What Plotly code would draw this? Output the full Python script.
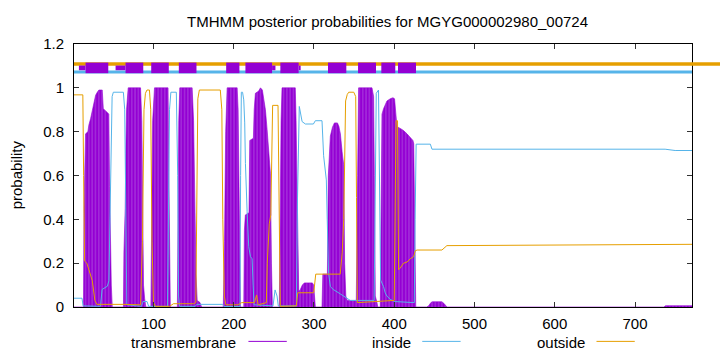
import plotly.graph_objects as go

SEQ_LEN = 771
TITLE = "TMHMM posterior probabilities for MGYG000002980_00724"

# ---- posterior probability profiles (residue, probability) ----
tm_res = [1, 12.8, 13.5, 15.4, 18.3, 19.5, 21.7, 23.8, 25.8, 27.9, 30, 32, 36.2, 37, 37.5, 43.2, 44.4, 45.3, 46.5, 47.5, 48.7,
          62.6, 63.2, 64.8, 65.5, 66.5, 68.5, 83.9, 85.5, 86.8, 87.6, 89, 90.5,
          96.8, 97.6, 99, 101.3, 118.2, 119.2, 120.4, 121,
          129.8, 130.5, 131.5, 132.8, 148.2, 150, 151.5, 153, 154.5, 158, 160,
          187, 188.5, 190, 191.8, 204.3, 205.5, 206.5, 207.5, 208.4,
          212.5, 213.3, 214.5, 219, 220, 224.5, 225.5, 227, 231.1, 233.3, 235.7, 237.4, 239.5, 241.6, 243.6, 245.7, 247, 247.6, 248.2,
          256.8, 258, 259, 260.2, 276.7, 277.7, 278.6, 279.7, 281, 283, 285.5, 288, 298, 299.6, 300.5, 301.7,
          310, 311, 316.7, 317.9, 320.4, 323, 325.5, 329.2, 331, 332.9, 335, 337, 338.2, 339.7, 341.5, 352,
          352.7, 354.4, 355.6, 372.3, 374.3, 375.2, 376.4, 378.5, 379.5,
          382.6, 383.9, 384.7, 386.7, 388.8, 390.9, 395, 398.4, 400.4, 402.2, 403.4, 407.5, 411.6, 415.9, 420, 423.3, 424.3, 425.6, 426.8,
          440.5, 442.7, 445.7, 447.3, 459.4, 462.3, 465.6,
          590, 592, 619, 621, 634, 636, 656, 658, 736, 738, 771]
tm_prob = [0, 0, 0.45, 0.79, 0.8, 0.83, 0.86, 0.897, 0.935, 0.966, 0.98, 0.99, 0.99, 0.92, 0.905, 0.885, 0.88, 0.55, 0.28, 0.1, 0,
           0, 0.25, 0.45, 0.7, 0.9, 1.0, 1.0, 0.85, 0.4, 0.1, 0.04, 0,
           0, 0.3, 0.85, 1.0, 1.0, 0.6, 0.05, 0,
           0, 0.4, 0.85, 1.0, 1.0, 0.85, 0.5, 0.15, 0.03, 0.02, 0,
           0, 0.3, 0.8, 1.0, 1.0, 0.9, 0.5, 0.1, 0,
           0, 0.35, 0.42, 0.43, 0.76, 0.77, 0.9, 0.975, 0.985, 1.0, 0.99, 0.945, 0.9, 0.81, 0.69, 0.61, 0.2, 0.05, 0,
           0, 0.5, 0.85, 1.0, 1.0, 0.85, 0.6, 0.25, 0.07, 0.08, 0.1, 0.11, 0.11, 0.1, 0.03, 0,
           0, 0.15, 0.15, 0.6, 0.78, 0.82, 0.84, 0.84, 0.825, 0.79, 0.71, 0.65, 0.2, 0.05, 0.03, 0.03,
           0.03, 0.6, 1.0, 1.0, 0.96, 0.6, 0.05, 0.02, 0,
           0, 0.6, 0.88, 0.905, 0.925, 0.94, 0.95, 0.955, 0.95, 0.87, 0.823, 0.815, 0.805, 0.79, 0.775, 0.76, 0.745, 0.3, 0,
           0, 0.005, 0.02, 0.024, 0.024, 0.015, 0,
           0, 0.003, 0.003, 0, 0, 0.003, 0.003, 0, 0, 0.006, 0.006]

inside_res = [1, 11, 12.3, 34, 36, 42.6, 44.5, 45.8, 47.5, 48.5, 50, 62.5, 64.2, 65.3, 66.8, 85, 87, 92, 94,
              117.5, 119, 120, 121.7, 128.5, 130.2, 131.3, 132.5, 152, 154, 186, 188,
              207.8, 208.6, 209.5, 211, 212.5, 213.7, 214.6, 216.7, 218.7, 220.8, 222.9, 224.2, 225.3,
              249, 251.5, 254, 255.5, 278, 279.5, 281.7, 283, 285.2, 289.3, 299.3, 301.7, 310, 312, 315.4, 316.5, 318.2,
              320.4, 324, 332.7, 341, 345.2, 375, 376.3, 377.6, 380.4, 381.7, 383, 386.7, 388.8, 390.9, 395, 400,
              425, 426, 427.3, 445, 447, 737.5, 750, 771]
inside_prob = [0.04, 0.04, 0.005, 0.003, 0.08, 0.095, 0.12, 0.4, 0.85, 0.96, 0.98, 0.98, 0.9, 0.35, 0.01, 0.003, 0.025, 0.025, 0.003,
               0.003, 0.5, 0.9, 0.98, 0.98, 0.6, 0.05, 0.003, 0.003, 0.012, 0.012, 0.002,
               0.002, 0.6, 0.98, 0.98, 0.945, 0.84, 0.655, 0.435, 0.275, 0.23, 0.22, 0.1, 0.01,
               0.005, 0.078, 0.05, 0.005, 0.005, 0.5, 0.915, 0.89, 0.846, 0.835, 0.835, 0.85, 0.85, 0.69, 0.58, 0.4, 0.154,
               0.093, 0.08, 0.06, 0.04, 0.03, 0.03, 0.6, 0.975, 0.99, 0.6, 0.123, 0.093, 0.064, 0.05, 0.035, 0.025,
               0.02, 0.4, 0.743, 0.743, 0.72, 0.72, 0.714, 0.714]

outside_res = [1, 12, 13, 14.2, 17, 19.5, 23.8, 27, 29.5, 62, 83.9, 86.3, 88.2, 90, 91.9, 95, 96.6, 98.2, 100, 102.5,
               120, 125, 150, 152.8, 154, 155.3, 157.2, 183.3, 185.2, 186.4, 188.3, 190.2, 205, 210, 226, 228.5, 230.5,
               240.6, 241.8, 244.3, 246.2, 247.5, 248.5, 255.2, 256.8, 258, 278, 279.8, 299.7, 302.2, 332.7, 335.2,
               337.1, 338.4, 339.4, 341.5, 343.3, 349.6, 352, 353, 354, 400, 401.5, 402.2, 404.1, 405.4, 407.5, 411.6,
               415.9, 420, 424.2, 426.3, 428.5, 459.4, 465.6, 656, 680, 771]
outside_prob = [0.968, 0.968, 0.6, 0.21, 0.2, 0.17, 0.12, 0.03, 0.012, 0.012, 0.01, 0.3, 0.9, 0.975, 0.99, 0.99, 0.9, 0.3, 0.02, 0.003,
                0.003, 0.015, 0.015, 0.02, 0.6, 0.95, 0.99, 0.99, 0.9, 0.4, 0.05, 0.01, 0.01, 0.02, 0.02, 0.055, 0.01,
                0.02, 0.2, 0.38, 0.42, 0.7, 0.92, 0.92, 0.5, 0.003, 0.005, 0.065, 0.065, 0.15, 0.15, 0.25,
                0.4, 0.7, 0.94, 0.97, 0.98, 0.98, 0.96, 0.5, 0.02, 0.03, 0.5, 0.85, 0.85, 0.17, 0.178, 0.2,
                0.205, 0.22, 0.23, 0.257, 0.26, 0.26, 0.28, 0.283, 0.286, 0.286]

# ---- predicted topology drawn above the curves ----
tm_box_start = [15.4, 65.2, 97.2, 131.6, 190.6, 214.6, 258.1, 317.5, 354.9, 383.9, 404.7]
tm_box_end = [43.7, 87.3, 119.1, 153.6, 207.1, 247.8, 280.9, 340.3, 377.3, 401.3, 427.1]
tm_thin_start = [7.1, 52.8, 247.8, 280.9]
tm_thin_end = [15.4, 65.2, 252.0, 283.4]
inside_bar = [1, SEQ_LEN]
outside_bar = [1, SEQ_LEN]
Y_TM, Y_IN, Y_OUT = 1.091, 1.072, 1.109

X_TICKS = [100, 200, 300, 400, 500, 600, 700]
Y_TICKS = [0, 0.2, 0.4, 0.6, 0.8, 1.0, 1.2]

PURPLE = "#9400D3"
BLUE = "#56B4E9"
ORANGE = "#E69F00"
FONT = "Liberation Sans, Arial, sans-serif"

# plot-area geometry (pixels)
W, H = 720, 352
L, R, T, B = 73.7, 27.7, 44.3, 45.3
PW, PH = W - L - R, H - T - B


def px(xp):
    return (xp - L) / PW


def py(yp):
    return (H - B - yp) / PH


def segs(starts, ends, y):
    xs, ys = [], []
    for s, e in zip(starts, ends):
        xs += [s, e, None]
        ys += [y, y, None]
    return xs, ys


fig = go.Figure()

fig.add_trace(go.Scatter(
    x=tm_res, y=tm_prob, mode="lines", line=dict(color=PURPLE, width=0.6),
    fill="tozeroy", fillcolor=PURPLE,
    fillpattern=dict(shape="|", bgcolor=PURPLE, fgcolor="#c58de9", size=3.3, solidity=0.28),
    name="transmembrane", showlegend=False, hoverinfo="skip"))
fig.add_trace(go.Scatter(x=inside_res, y=inside_prob, mode="lines",
                         line=dict(color=BLUE, width=1), name="inside", showlegend=False))
fig.add_trace(go.Scatter(x=outside_res, y=outside_prob, mode="lines",
                         line=dict(color=ORANGE, width=1), name="outside", showlegend=False))

# topology lines
fig.add_trace(go.Scatter(x=outside_bar, y=[Y_OUT, Y_OUT], mode="lines",
                         line=dict(color=ORANGE, width=3.5), showlegend=False, hoverinfo="skip"))
fig.add_trace(go.Scatter(x=inside_bar, y=[Y_IN, Y_IN], mode="lines",
                         line=dict(color=BLUE, width=3), showlegend=False, hoverinfo="skip"))
xs, ys = segs(tm_thin_start, tm_thin_end, Y_TM)
fig.add_trace(go.Scatter(x=xs, y=ys, mode="lines", line=dict(color=PURPLE, width=4.7),
                         showlegend=False, hoverinfo="skip", connectgaps=False))
xs, ys = segs(tm_box_start, tm_box_end, Y_TM)
fig.add_trace(go.Scatter(x=xs, y=ys, mode="lines", line=dict(color=PURPLE, width=10.6),
                         showlegend=False, hoverinfo="skip", connectgaps=False))

shapes = [
    # outside topology line runs past the right border
    dict(type="line", xref="paper", yref="y", x0=1.0, x1=px(W + 5), y0=Y_OUT, y1=Y_OUT,
         line=dict(color=ORANGE, width=3.5), layer="above"),
]
annotations = [
    dict(text=TITLE, xref="paper", yref="paper", x=px(388), y=py(22), xanchor="center", yanchor="middle",
         showarrow=False, font=dict(family=FONT, size=15, color="black")),
    dict(text="probability", xref="paper", yref="paper", x=px(17), y=py(175), textangle=-90,
         xanchor="center", yanchor="middle", showarrow=False, font=dict(family=FONT, size=15, color="black")),
]
legend_items = [("transmembrane", PURPLE, 238.3, 248.3, 286.7),
                ("inside", BLUE, 412.7, 422.3, 460.7),
                ("outside", ORANGE, 586.7, 596.7, 635.0)]
for name, col, tx, lx0, lx1 in legend_items:
    annotations.append(dict(text=name, xref="paper", yref="paper", x=px(tx), y=py(342),
                            xanchor="right", yanchor="middle", showarrow=False,
                            font=dict(family=FONT, size=15, color="black")))
    shapes.append(dict(type="line", xref="paper", yref="paper", x0=px(lx0), x1=px(lx1),
                       y0=py(341), y1=py(341), line=dict(color=col, width=1)))

fig.update_layout(
    width=W, height=H,
    margin=dict(l=L, r=R, t=T, b=B, pad=0),
    paper_bgcolor="white", plot_bgcolor="white",
    font=dict(family=FONT, size=15, color="black"),
    shapes=shapes, annotations=annotations,
    showlegend=False,
)
fig.update_xaxes(range=[1, SEQ_LEN], tickvals=X_TICKS, ticks="inside", ticklen=5, tickcolor="#333",
                 showline=True, linecolor="black", linewidth=1, mirror="ticks", showgrid=False,
                 zeroline=False, ticklabelstandoff=3, tickfont=dict(family=FONT, size=15, color="black"))
fig.update_yaxes(range=[0, 1.2], tickvals=Y_TICKS, ticks="inside", ticklen=5, tickcolor="#333",
                 showline=True, linecolor="black", linewidth=1, mirror="ticks", showgrid=False,
                 zeroline=False, ticklabelstandoff=6, tickfont=dict(family=FONT, size=15, color="black"))

fig.write_html("out.html")
